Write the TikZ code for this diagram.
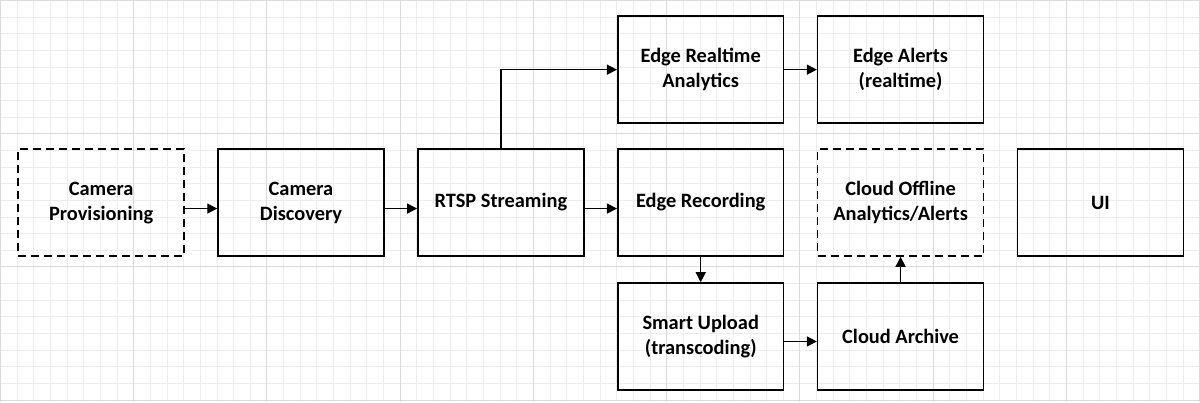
\documentclass[tikz,border=0pt]{standalone}
\usepackage{fontspec}
\setmainfont{Carlito}
\usetikzlibrary{arrows.meta}
\begin{document}
\begin{tikzpicture}[x=0.5pt,y=-0.5pt,
  box/.style={draw,line width=0.8pt,minimum width=83pt,minimum height=53.5pt,anchor=north west,align=center,font=\bfseries\fontsize{10.2}{12.5}\selectfont,inner sep=0pt},
  dashbox/.style={dash pattern=on 4pt off 2.5pt},
  arr/.style={-{Triangle[length=5pt,width=5pt]},line width=0.7pt}]
\fill[white] (0,0) rectangle (1200,402);
\foreach \i in {0,...,72} \draw[line width=0.4pt,black!7] (\i*16.667,0) -- (\i*16.667,402);
\foreach \i in {0,...,24} \draw[line width=0.4pt,black!7] (0,\i*16.667) -- (1200,\i*16.667);
\foreach \i in {0,...,9} \draw[line width=0.4pt,black!14] (\i*133.33,0) -- (\i*133.33,402);
\foreach \i in {0,...,3} \draw[line width=0.4pt,black!14] (0,\i*133.33) -- (1200,\i*133.33);
\useasboundingbox (0,0) rectangle (1200,402);
\node[box,dashbox] (prov) at (17,148) {Camera\\Provisioning};
\node[box] (disc) at (217,148) {Camera\\Discovery};
\node[box] (rtsp) at (417,148) {RTSP Streaming};
\node[box] (era) at (617,15) {Edge Realtime\\Analytics};
\node[box] (eal) at (817,15) {Edge Alerts\\(realtime)};
\node[box] (rec) at (617,148) {Edge Recording};
\node[box,dashbox] (coa) at (817,148) {Cloud Offline\\Analytics/Alerts};
\node[box] (ui) at (1017,148) {UI};
\node[box] (su) at (617,282) {Smart Upload\\(transcoding)};
\node[box] (ca) at (817,282) {Cloud Archive};
\draw[arr] ([yshift=-3pt]prov.east) -- ([yshift=-3pt]disc.west);
\draw[arr] ([yshift=-3pt]disc.east) -- ([yshift=-3pt]rtsp.west);
\draw[arr] ([yshift=-3pt]rtsp.east) -- ([yshift=-3pt]rec.west);
\draw[arr] (rtsp.north) |- (era.west);
\draw[arr] (era.east) -- (eal.west);
\draw[arr] (rec.south) -- (su.north);
\draw[arr] ([yshift=-2.5pt]su.east) -- ([yshift=-2.5pt]ca.west);
\draw[arr] (ca.north) -- (coa.south);
\end{tikzpicture}
\end{document}
